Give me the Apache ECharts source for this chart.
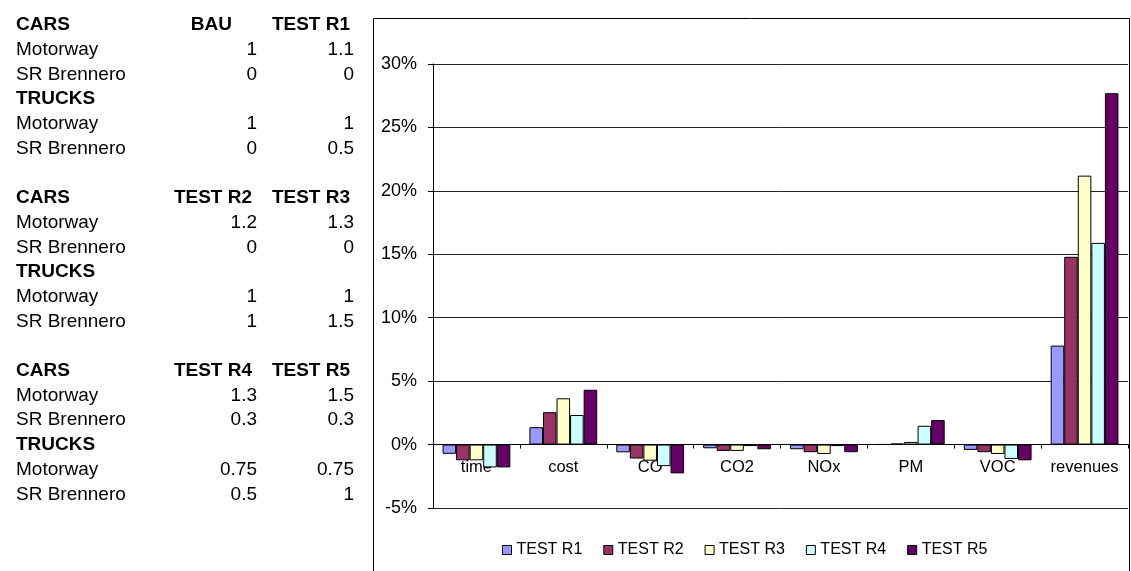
<!DOCTYPE html>
<html>
<head>
<meta charset="utf-8">
<title>Tests R1-R5</title>
<script src="https://cdn.jsdelivr.net/npm/echarts@6/dist/echarts.min.js"></script>
<style>
  html, body { margin: 0; padding: 0; background: #fff; }
  #main { width: 1131px; height: 571px; }
</style>
</head>
<body>
<div id="main"></div>
<script>
// chart data (percent change vs BAU)
const categories = ['time', 'cost', 'CO', 'CO2', 'NOx', 'PM', 'VOC', 'revenues']
const seriesNames = ['TEST R1', 'TEST R2', 'TEST R3', 'TEST R4', 'TEST R5']
const testR1 = [-0.73, 1.37, -0.61, -0.29, -0.37, 0.02, -0.42, 7.8]
const testR2 = [-1.24, 2.55, -1.1, -0.5, -0.6, 0.08, -0.6, 14.8]
const testR3 = [-1.24, 3.65, -1.27, -0.5, -0.74, 0.21, -0.74, 21.2]
const testR4 = [-1.8, 2.33, -1.7, -0.12, -0.12, 1.48, -1.13, 15.9]
const testR5 = [-1.8, 4.32, -2.27, -0.37, -0.6, 1.93, -1.24, 27.7]
const yTicks = [-5, 0, 5, 10, 15, 20, 25, 30]

// scenario table on the left
const tableHeaders = [['BAU', 'TEST R1'], ['TEST R2', 'TEST R3'], ['TEST R4', 'TEST R5']]
const carsMotorway = [['1', '1.1'], ['1.2', '1.3'], ['1.3', '1.5']]
const carsBrennero = [['0', '0'], ['0', '0'], ['0.3', '0.3']]
const trucksMotorway = [['1', '1'], ['1', '1'], ['0.75', '0.75']]
const trucksBrennero = [['0', '0.5'], ['1', '1.5'], ['0.5', '1']]

const colors = ['#9999FF', '#993366', '#FFFFCC', '#CCFFFF', '#660066']
const FONT = "'Liberation Sans', Arial, Helvetica, sans-serif"

const chart = echarts.init(document.getElementById('main'))

// build the table as graphic texts
function txt (s, x, y, align, bold) {
  return {
    type: 'text',
    x: x,
    y: y,
    silent: true,
    style: {
      text: s,
      fill: '#000',
      font: (bold ? 'bold ' : '') + '19px ' + FONT,
      align: align,
      verticalAlign: 'middle',
      textAlign: align,
      textVerticalAlign: 'middle'
    }
  }
}
const rowY = i => 25 + i * 24.7
const labelX = 16
const valRight = [257, 354]
const headRight = [252, 350]
const tableEls = []
tableHeaders.forEach((heads, b) => {
  const r0 = b * 7
  tableEls.push(txt('CARS', labelX, rowY(r0), 'left', true))
  heads.forEach((h, c) => {
    const xr = h === 'BAU' ? 232 : headRight[c]
    tableEls.push(txt(h, xr, rowY(r0), 'right', true))
  })
  tableEls.push(txt('Motorway', labelX, rowY(r0 + 1), 'left', false))
  tableEls.push(txt('SR Brennero', labelX, rowY(r0 + 2), 'left', false))
  tableEls.push(txt('TRUCKS', labelX, rowY(r0 + 3), 'left', true))
  tableEls.push(txt('Motorway', labelX, rowY(r0 + 4), 'left', false))
  tableEls.push(txt('SR Brennero', labelX, rowY(r0 + 5), 'left', false))
  const rows = [[carsMotorway, 1], [carsBrennero, 2], [trucksMotorway, 4], [trucksBrennero, 5]]
  rows.forEach(([arr, r]) => {
    arr[b].forEach((v, c) => {
      tableEls.push(txt(v, valRight[c], rowY(r0 + r), 'right', false))
    })
  })
})

// chart area frame
tableEls.push({
  type: 'rect',
  silent: true,
  z: -1,
  shape: { x: 373.5, y: 18.5, width: 756, height: 600 },
  style: { fill: 'none', stroke: '#000', lineWidth: 1 }
})

const allSeries = [testR1, testR2, testR3, testR4, testR5]

// grid geometry, so the category axis can be moved up onto the 0% line
const gridTop = 64
const gridBottom = 63
const plotH = 571 - gridTop - gridBottom
const zeroOffset = plotH * (0 - yTicks[0]) / (yTicks[yTicks.length - 1] - yTicks[0])

const option = {
  animation: false,
  textStyle: { fontFamily: FONT },
  graphic: tableEls,
  grid: {
    left: 433,
    right: 3,
    top: gridTop,
    bottom: gridBottom,
    containLabel: false
  },
  legend: {
    data: seriesNames,
    left: 497,
    top: 537,
    icon: 'rect',
    itemWidth: 9,
    itemHeight: 9,
    itemGap: 21,
    textStyle: { fontSize: 16, color: '#000', fontFamily: FONT },
    itemStyle: { borderColor: '#000', borderWidth: 1 }
  },
  xAxis: {
    type: 'category',
    data: categories,
    position: 'bottom',
    offset: -zeroOffset,
    axisLine: { onZero: false, lineStyle: { color: '#000', width: 1 } },
    axisTick: { show: true, length: 4, lineStyle: { color: '#000' } },
    axisLabel: { color: '#000', fontSize: 16.5, margin: 14, interval: 0, fontFamily: FONT },
    splitLine: { show: false }
  },
  yAxis: {
    type: 'value',
    min: yTicks[0],
    max: yTicks[yTicks.length - 1],
    interval: 5,
    axisLine: { show: true, lineStyle: { color: '#000', width: 1 } },
    axisTick: { show: true, length: 5, lineStyle: { color: '#000' } },
    axisLabel: { color: '#000', fontSize: 18, margin: 16, formatter: '{value}%', fontFamily: FONT },
    splitLine: { show: true, lineStyle: { color: '#222', width: 1 } }
  },
  series: allSeries.map((vals, i) => ({
    name: seriesNames[i],
    type: 'bar',
    data: vals,
    barGap: '0%',
    barCategoryGap: '22%',
    itemStyle: { color: colors[i], borderColor: '#000', borderWidth: 1 }
  }))
}

chart.setOption(option)
</script>
</body>
</html>
